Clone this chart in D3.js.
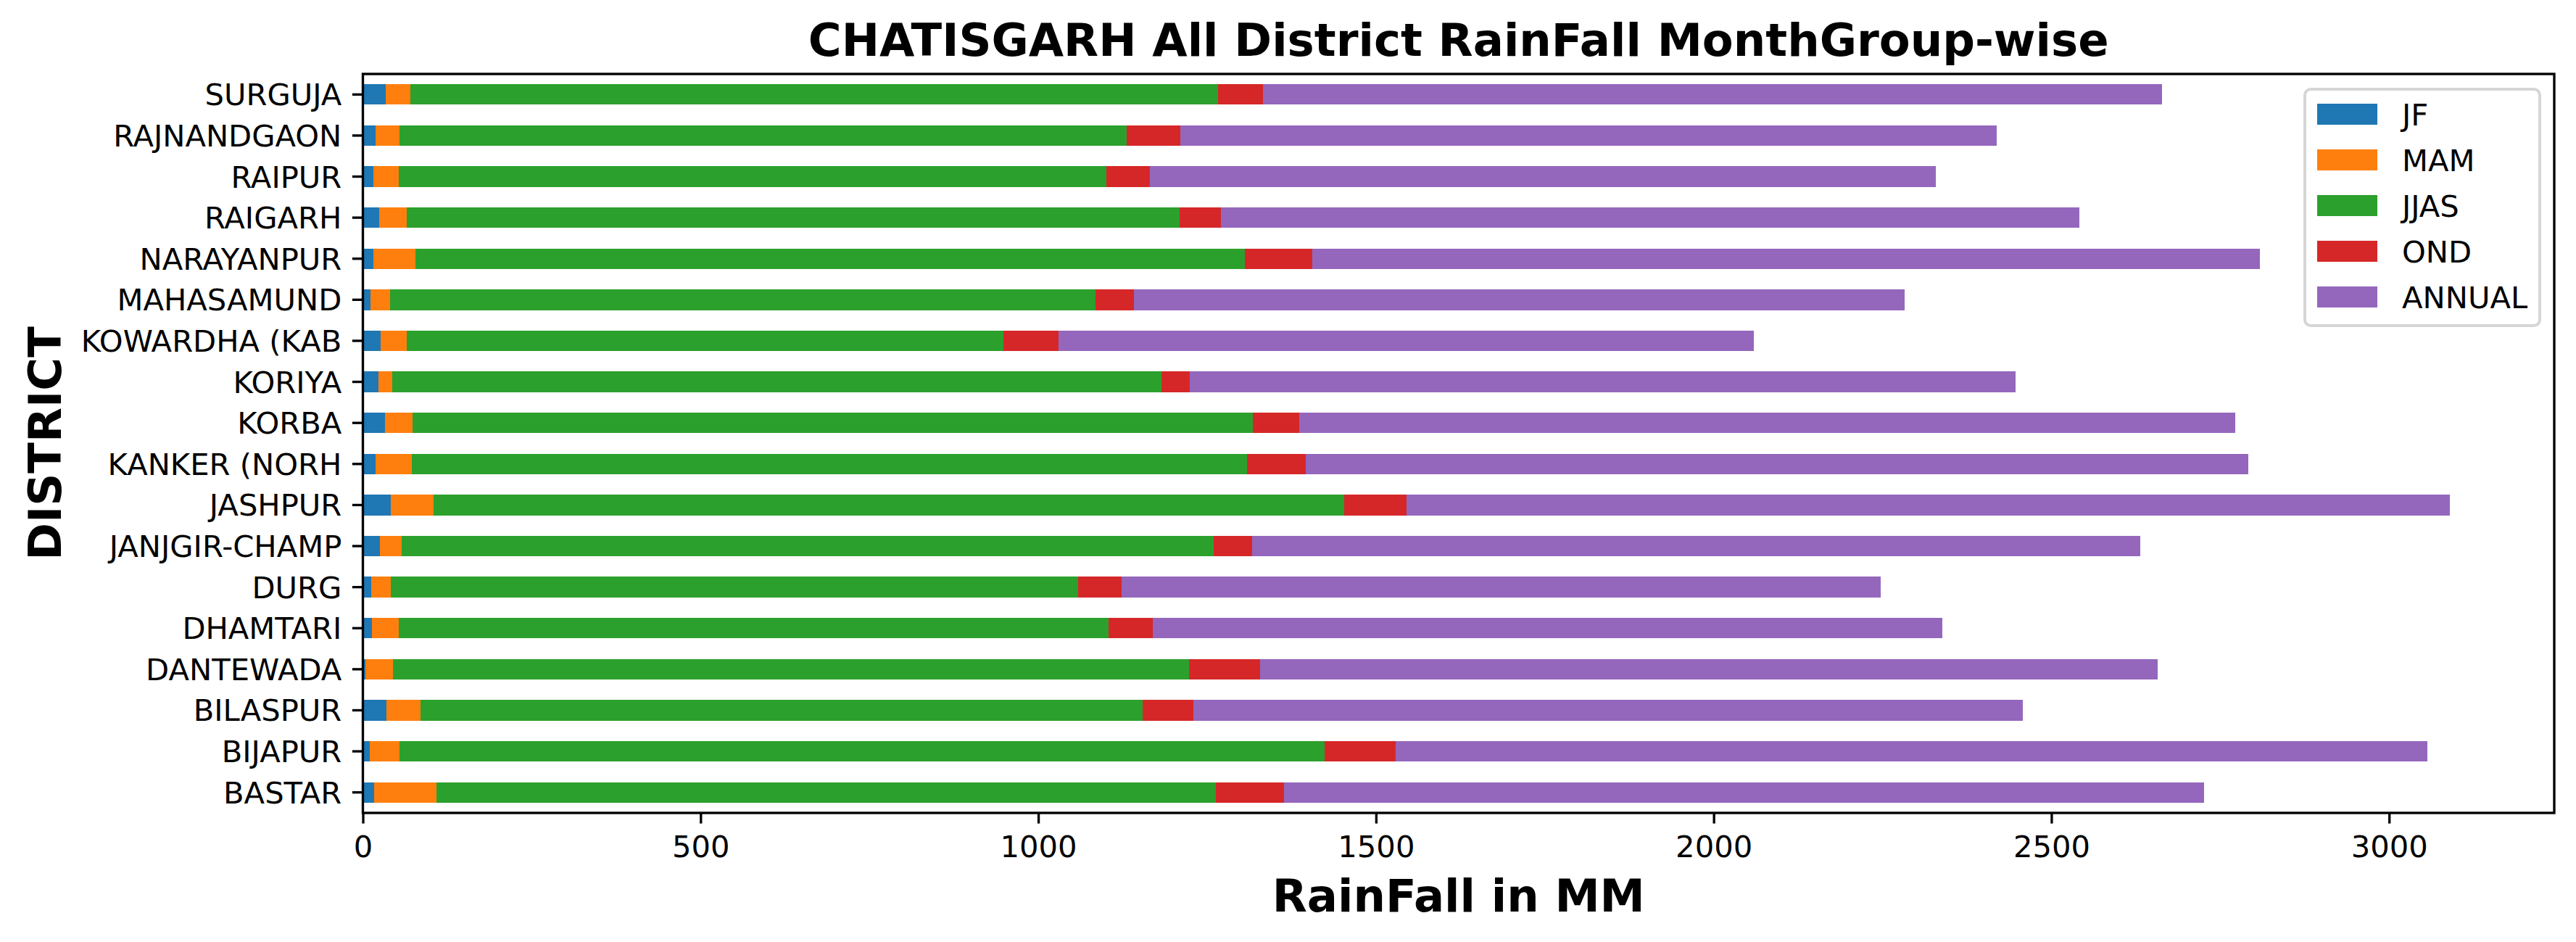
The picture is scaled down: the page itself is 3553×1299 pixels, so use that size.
<!DOCTYPE html>
<html>
<head>
<meta charset="utf-8">
<script src="https://cdn.jsdelivr.net/npm/d3@7"></script>
<style>
  html, body { margin: 0; padding: 0; background: #fff; }
  svg { display: block; }
  text { font-family: "DejaVu Sans", sans-serif; }
</style>
</head>
<body>
<svg id="chart" width="3553" height="1299"></svg>
<script>
// ---- data (bottom to top, as plotted) ----
const districts = ["BASTAR", "BIJAPUR", "BILASPUR", "DANTEWADA", "DHAMTARI", "DURG",
  "JANJGIR-CHAMP", "JASHPUR", "KANKER (NORH", "KORBA", "KORIYA", "KOWARDHA (KAB",
  "MAHASAMUND", "NARAYANPUR", "RAIGARH", "RAIPUR", "RAJNANDGAON", "SURGUJA"];
const seriesNames = ["JF", "MAM", "JJAS", "OND", "ANNUAL"];
const jf     = [16.6, 10.2, 34.9, 3.8, 13.4, 12.3, 25.2, 41.3, 18.8, 32.7, 23.1, 26.3, 11.3, 15.6, 24.2, 15.6, 18.8, 33.8];
const mam    = [92.3, 44.0, 50.4, 40.7, 39.7, 29.0, 32.2, 63.4, 53.6, 40.8, 20.4, 38.7, 28.9, 62.2, 40.8, 37.5, 35.4, 36.5];
const jjas   = [1153.6, 1369.3, 1068.9, 1178.8, 1050.8, 1017.6, 1202.8, 1348.0, 1236.6, 1244.1, 1138.5, 883.2, 1044.6, 1227.9, 1143.9, 1047.5, 1076.5, 1195.5];
const ond    = [101.1, 105.4, 75.3, 104.9, 65.7, 64.2, 56.0, 92.6, 86.7, 68.6, 42.2, 81.4, 56.4, 99.6, 61.3, 64.7, 79.6, 66.7];
const annual = [1362.4, 1528.1, 1228.5, 1328.8, 1168.4, 1123.9, 1315.8, 1544.7, 1395.3, 1385.8, 1222.8, 1029.4, 1141.8, 1403.7, 1270.8, 1163.7, 1208.7, 1331.5];
const xTicks = [0, 500, 1000, 1500, 2000, 2500, 3000];
const colors = ["#1f77b4", "#ff7f0e", "#2ca02c", "#d62728", "#9467bd"];

(function () {
const table = districts.map((d, i) => ({
  district: d, JF: jf[i], MAM: mam[i], JJAS: jjas[i], OND: ond[i], ANNUAL: annual[i]
}));

// ---- layout ----
const W = 3553, H = 1299;
const pL = 500.5, pR = 3523, pT = 102, pB = 1121;
const svg = d3.select("#chart");
svg.append("rect").attr("width", W).attr("height", H).attr("fill", "#fff");

const stacked = d3.stack().keys(seriesNames)(table);
const maxTotal = d3.max(stacked[stacked.length - 1], d => d[1]);

const x = d3.scaleLinear().domain([0, maxTotal * 1.05]).range([pL, pR]);
const y = d3.scaleBand()
  .domain(districts.slice().reverse())
  .range([pT, pB])
  .paddingInner(0.5).paddingOuter(0.25);

const color = d3.scaleOrdinal().domain(seriesNames).range(colors);

// bars
svg.append("g").selectAll("g")
  .data(stacked).join("g")
  .attr("fill", s => color(s.key))
  .selectAll("rect")
  .data(s => s).join("rect")
  .attr("x", d => x(d[0]))
  .attr("width", d => Math.max(0, x(d[1]) - x(d[0])))
  .attr("y", d => y(d.data.district))
  .attr("height", y.bandwidth())
  .attr("shape-rendering", "crispEdges");

const fs = 41.7;
// x axis
const xAxis = d3.axisBottom(x).tickValues(xTicks).tickSize(14.6).tickPadding(14.6).tickFormat(d3.format("d"));
const gx = svg.append("g").attr("transform", `translate(0,${pB})`).call(xAxis);
gx.select(".domain").remove();
gx.selectAll(".tick line").attr("stroke", "#000").attr("stroke-width", 3.33);
gx.selectAll(".tick text").attr("font-size", fs).attr("fill", "#000")
  .attr("font-family", "DejaVu Sans").attr("dy", "0.76em");

// y axis
const yAxis = d3.axisLeft(y).tickSize(14.6).tickPadding(14.6);
const gy = svg.append("g").attr("transform", `translate(${pL},0)`).call(yAxis);
gy.select(".domain").remove();
gy.selectAll(".tick line").attr("stroke", "#000").attr("stroke-width", 3.33);
gy.selectAll(".tick text").attr("font-size", fs).attr("fill", "#000")
  .attr("font-family", "DejaVu Sans").attr("dy", "0.36em");

// frame
svg.append("rect")
  .attr("x", pL).attr("y", pT)
  .attr("width", pR - pL).attr("height", pB - pT)
  .attr("fill", "none").attr("stroke", "#000").attr("stroke-width", 3.33);

// title
svg.append("text")
  .attr("x", (pL + pR) / 2).attr("y", 77)
  .attr("text-anchor", "middle")
  .attr("font-size", 62.5).attr("font-weight", "bold")
  .text("CHATISGARH All District RainFall MonthGroup-wise");

// axis labels
svg.append("text")
  .attr("x", (pL + pR) / 2).attr("y", 1257)
  .attr("text-anchor", "middle")
  .attr("font-size", 62.5).attr("font-weight", "bold")
  .text("RainFall in MM");

svg.append("text")
  .attr("transform", `translate(84,${(pT + pB) / 2}) rotate(-90)`)
  .attr("text-anchor", "middle")
  .attr("font-size", 62.5).attr("font-weight", "bold")
  .text("DISTRICT");

// legend
const lg = svg.append("g");
lg.append("rect")
  .attr("x", 3179).attr("y", 123)
  .attr("width", 324).attr("height", 326)
  .attr("rx", 8).attr("ry", 8)
  .attr("fill", "#fff").attr("fill-opacity", 0.8)
  .attr("stroke", "#d6d6d6").attr("stroke-width", 4);
seriesNames.forEach((s, i) => {
  const cy = 157.5 + i * 63;
  lg.append("rect")
    .attr("x", 3196).attr("y", cy - 14.5)
    .attr("width", 83).attr("height", 29)
    .attr("fill", color(s));
  lg.append("text")
    .attr("x", 3313).attr("y", cy + 15.2)
    .attr("font-size", fs)
    .text(s);
});
})();
</script>
</body>
</html>
